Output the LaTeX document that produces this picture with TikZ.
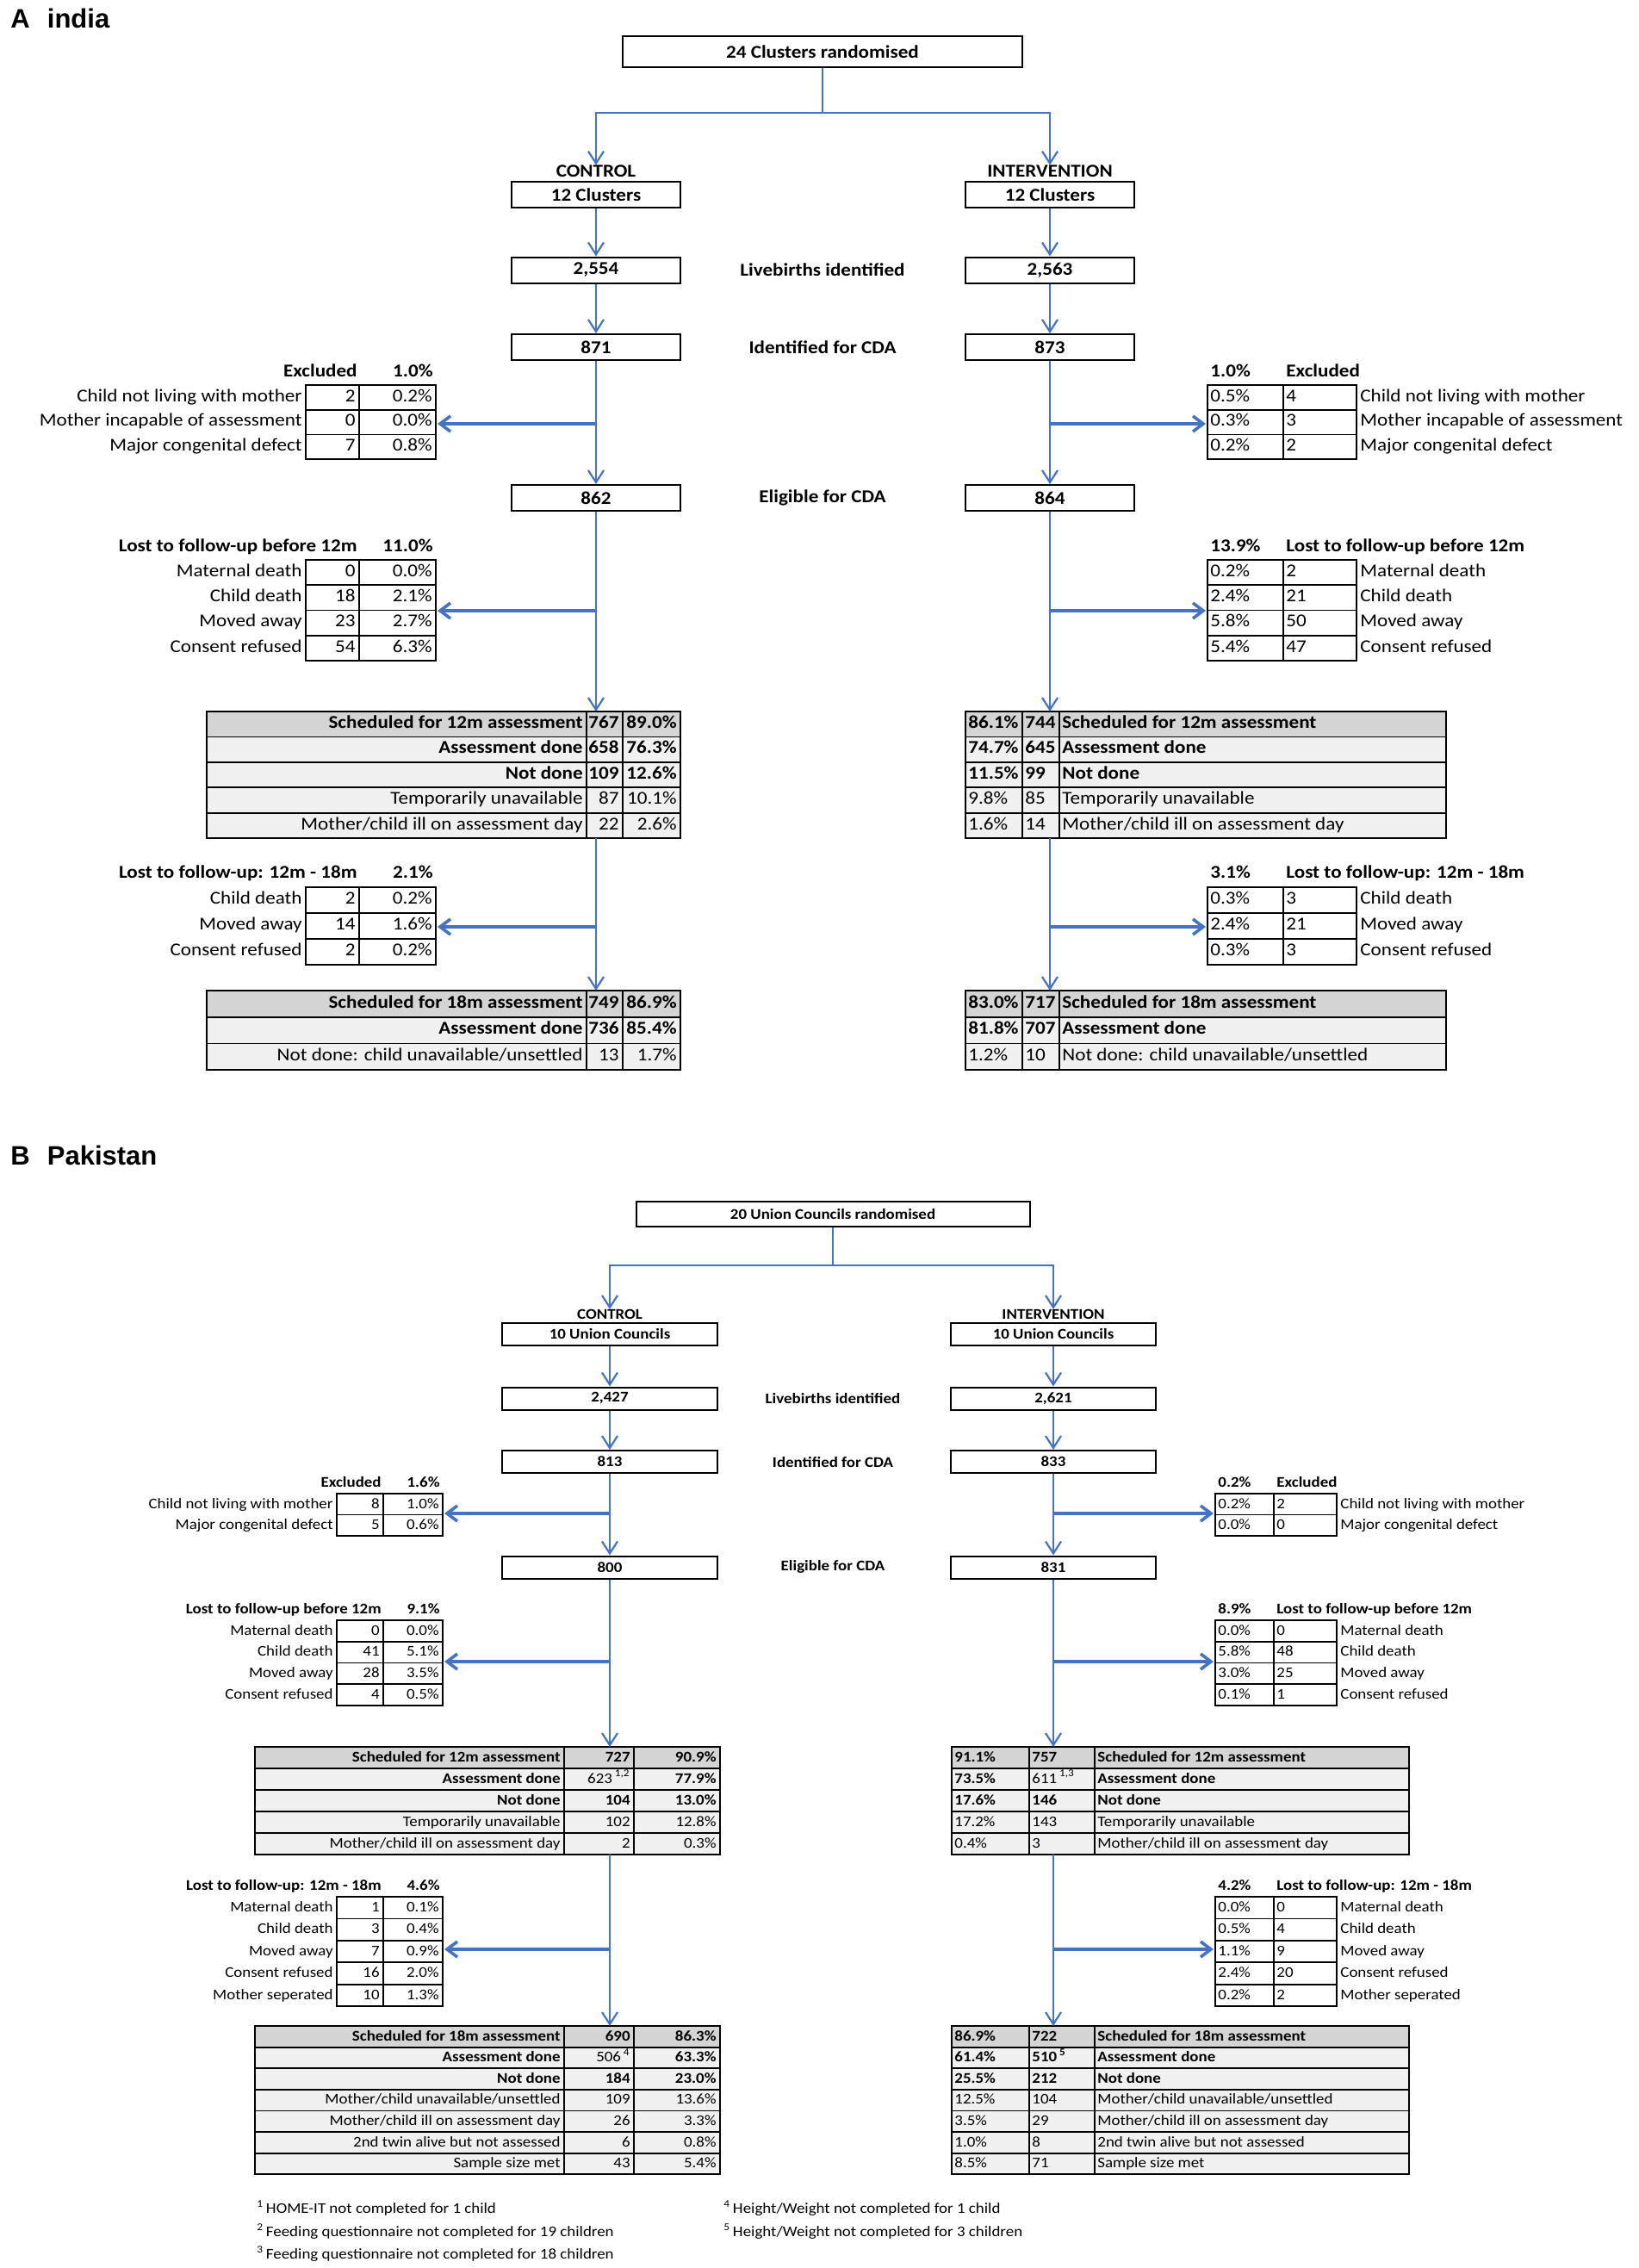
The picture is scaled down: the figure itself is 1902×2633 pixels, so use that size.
\documentclass[tikz,border=0pt]{standalone}
\usepackage{fontspec}
\setmainfont{Carlito}[FakeStretch=1.1]
\newfontfamily\headfont{Liberation Sans}
\usepackage{tikz}
\usetikzlibrary{arrows.meta}

\definecolor{flowblue}{RGB}{68,114,196}
\colorlet{hdrgray}{black!17}
\colorlet{rowgray}{black!6}
\newcommand\tabsize{\normalsize}

\tikzset{
  flow/.style={draw=flowblue, line width=1.1pt, -{Straight Barb[length=7pt,width=9pt]}},
  flowline/.style={draw=flowblue, line width=1.1pt},
  side/.style={draw=flowblue, line width=1.8pt, -{Straight Barb[length=6pt,width=9pt]}},
  tabline/.style={draw=black, line width=0.9pt},
  bx/.style={draw, line width=1pt, inner sep=0pt, font=\tabsize\bfseries},
  txt/.style={inner sep=0pt, font=\tabsize},
  btxt/.style={inner sep=0pt, font=\tabsize\bfseries},
  head/.style={inner sep=0pt, font=\headfont\bfseries\fontsize{15.5}{18}\selectfont},
}

% big tables: #1 name, #2 top, #3 row height, #4 rows label/count/pct/weight/fill
\newcommand\bigtabL[4]{%
  \foreach \lab/\num/\pct/\wt/\bg [count=\i] in {#4}{
    \pgfmathsetmacro\yt{#2+(\i-1)*#3}
    \pgfmathsetmacro\ym{\yt+#3/2}
    \filldraw[tabline, fill=\bg] (\xa,\yt) rectangle (\xd,\yt+#3);
    \draw[tabline] (\xb,\yt) -- (\xb,\yt+#3) (\xc,\yt) -- (\xc,\yt+#3);
    \node[txt, anchor=mid east] (#1l\i) at (\xb-4,\ym) {\wt\lab};
    \node[txt, anchor=mid east] (#1n\i) at (\xc-4,\ym) {\wt\num};
    \node[txt, anchor=mid east] (#1p\i) at (\xd-4,\ym) {\wt\pct};
  }}
\newcommand\bigtabR[4]{%
  \foreach \lab/\num/\pct/\wt/\bg [count=\i] in {#4}{
    \pgfmathsetmacro\yt{#2+(\i-1)*#3}
    \pgfmathsetmacro\ym{\yt+#3/2}
    \filldraw[tabline, fill=\bg] (\xa,\yt) rectangle (\xd,\yt+#3);
    \draw[tabline] (\xb,\yt) -- (\xb,\yt+#3) (\xc,\yt) -- (\xc,\yt+#3);
    \node[txt, anchor=mid west] (#1p\i) at (\xa+3,\ym) {\wt\pct};
    \node[txt, anchor=mid west] (#1n\i) at (\xb+3,\ym) {\wt\num};
    \node[txt, anchor=mid west] (#1l\i) at (\xc+3,\ym) {\wt\lab};
  }}
% side tables: #1 name, #2 top, #3 row height, #4 heading, #5 total, #6 rows label/count/pct
\newcommand\sidetabL[6]{%
  \node[btxt, anchor=mid east] (#1h) at (\xb-2,#2-#3/2) {#4};
  \node[btxt, anchor=mid east] (#1t) at (\xc-3,#2-#3/2) {#5};
  \foreach \lab/\num/\pct [count=\i] in {#6}{
    \pgfmathsetmacro\yt{#2+(\i-1)*#3}
    \pgfmathsetmacro\ym{\yt+#3/2}
    \draw[tabline] (\xa,\yt) rectangle (\xc,\yt+#3) (\xb,\yt) -- (\xb,\yt+#3);
    \node[txt, anchor=mid east] (#1l\i) at (\xa-4,\ym) {\lab};
    \node[txt, anchor=mid east] (#1n\i) at (\xb-4,\ym) {\num};
    \node[txt, anchor=mid east] (#1p\i) at (\xc-4,\ym) {\pct};
  }}
\newcommand\sidetabR[6]{%
  \node[btxt, anchor=mid west] (#1t) at (\xa+3,#2-#3/2) {#5};
  \node[btxt, anchor=mid west] (#1h) at (\xb+3,#2-#3/2) {#4};
  \foreach \lab/\num/\pct [count=\i] in {#6}{
    \pgfmathsetmacro\yt{#2+(\i-1)*#3}
    \pgfmathsetmacro\ym{\yt+#3/2}
    \draw[tabline] (\xa,\yt) rectangle (\xc,\yt+#3) (\xb,\yt) -- (\xb,\yt+#3);
    \node[txt, anchor=mid west] (#1p\i) at (\xa+3,\ym) {\pct};
    \node[txt, anchor=mid west] (#1n\i) at (\xb+3,\ym) {\num};
    \node[txt, anchor=mid west] (#1l\i) at (\xc+4,\ym) {\lab};
  }}

\begin{document}
\begin{tikzpicture}[x=0.5pt, y=-0.5pt]
\useasboundingbox (0,0) rectangle (1902,2633);

%% A india
\begin{scope}[Abox/.style={bx, minimum width=98pt, minimum height=15pt}]
\renewcommand\tabsize{\fontsize{10.5}{12.6}\selectfont}
\node[head, anchor=base west] (Ahead) at (12,33) {A\hspace{0.65em}india};

\node[bx, minimum width=232pt, minimum height=18pt] (Aran) at (955,60) {24 Clusters randomised};
\coordinate (Asplit) at (955,131);
\node[btxt] (Actl) at (692,199) {CONTROL};
\node[btxt] (Aint) at (1219,199) {INTERVENTION};
\draw[flowline] (Aran) -- (Asplit);
\draw[flow] (Asplit) -| (Actl);
\draw[flow] (Asplit) -| (Aint);

\node[Abox] (Ac1) at (692,226) {12 Clusters};
\node[Abox] (Ac2) at (692,313.5) {2,554};
\node[Abox] (Ac3) at (692,403) {871};
\node[Abox] (Ac4) at (692,578) {862};
\node[Abox] (Ai1) at (1219,226) {12 Clusters};
\node[Abox] (Ai2) at (1219,313.5) {2,563};
\node[Abox] (Ai3) at (1219,403) {873};
\node[Abox] (Ai4) at (1219,578) {864};
\node[btxt] (Alive) at (955,313.5) {Livebirths identified};
\node[btxt] (Aidf) at (955,403) {Identified for CDA};
\node[btxt] (Aelig) at (955,578) {Eligible for CDA};

% control side
\def\xa{355}\def\xb{417}\def\xc{506}
\sidetabL{AcX}{447}{28.7}{Excluded}{1.0\%}{
  {Child not living with mother}/2/0.2\%,
  {Mother incapable of assessment}/0/0.0\%,
  {Major congenital defect}/7/0.8\%}
\sidetabL{AcL}{650}{29.25}{Lost to follow-up before 12m}{11.0\%}{
  {Maternal death}/0/0.0\%, {Child death}/18/2.1\%,
  {Moved away}/23/2.7\%, {Consent refused}/54/6.3\%}
\sidetabL{AcM}{1030}{30}{Lost to follow-up: 12m - 18m}{2.1\%}{
  {Child death}/2/0.2\%, {Moved away}/14/1.6\%, {Consent refused}/2/0.2\%}
\def\xa{240}\def\xb{681}\def\xc{723}\def\xd{790}
\bigtabL{Ac12}{826}{29.4}{
  {Scheduled for 12m assessment}/767/89.0\%/\bfseries/hdrgray,
  {Assessment done}/658/76.3\%/\bfseries/rowgray,
  {Not done}/109/12.6\%/\bfseries/rowgray,
  {Temporarily unavailable}/87/10.1\%/\mdseries/rowgray,
  {Mother/child ill on assessment day}/22/2.6\%/\mdseries/rowgray}
\bigtabL{Ac18}{1150}{30.7}{
  {Scheduled for 18m assessment}/749/86.9\%/\bfseries/hdrgray,
  {Assessment done}/736/85.4\%/\bfseries/rowgray,
  {Not done: child unavailable/unsettled}/13/1.7\%/\mdseries/rowgray}

% intervention side
\def\xa{1402}\def\xb{1490}\def\xc{1575}
\sidetabR{AiX}{447}{28.7}{Excluded}{1.0\%}{
  {Child not living with mother}/4/0.5\%,
  {Mother incapable of assessment}/3/0.3\%,
  {Major congenital defect}/2/0.2\%}
\sidetabR{AiL}{650}{29.25}{Lost to follow-up before 12m}{13.9\%}{
  {Maternal death}/2/0.2\%, {Child death}/21/2.4\%,
  {Moved away}/50/5.8\%, {Consent refused}/47/5.4\%}
\sidetabR{AiM}{1030}{30}{Lost to follow-up: 12m - 18m}{3.1\%}{
  {Child death}/3/0.3\%, {Moved away}/21/2.4\%, {Consent refused}/3/0.3\%}
\def\xa{1121}\def\xb{1187}\def\xc{1230}\def\xd{1679}
\bigtabR{Ai12}{826}{29.4}{
  {Scheduled for 12m assessment}/744/86.1\%/\bfseries/hdrgray,
  {Assessment done}/645/74.7\%/\bfseries/rowgray,
  {Not done}/99/11.5\%/\bfseries/rowgray,
  {Temporarily unavailable}/85/9.8\%/\mdseries/rowgray,
  {Mother/child ill on assessment day}/14/1.6\%/\mdseries/rowgray}
\bigtabR{Ai18}{1150}{30.7}{
  {Scheduled for 18m assessment}/717/83.0\%/\bfseries/hdrgray,
  {Assessment done}/707/81.8\%/\bfseries/rowgray,
  {Not done: child unavailable/unsettled}/10/1.2\%/\mdseries/rowgray}

\coordinate (Ac12top) at (692,826);
\coordinate (Ac12bot) at (692,973);
\coordinate (Ac18top) at (692,1150);
\coordinate (Ai12top) at (1219,826);
\coordinate (Ai12bot) at (1219,973);
\coordinate (Ai18top) at (1219,1150);
\draw[flow] (Ac1) -- (Ac2);
\draw[flow] (Ac2) -- (Ac3);
\draw[flow] (Ac3) -- (Ac4);
\draw[flow] (Ac4) -- (Ac12top);
\draw[flow] (Ac12bot) -- (Ac18top);
\draw[flow] (Ai1) -- (Ai2);
\draw[flow] (Ai2) -- (Ai3);
\draw[flow] (Ai3) -- (Ai4);
\draw[flow] (Ai4) -- (Ai12top);
\draw[flow] (Ai12bot) -- (Ai18top);

\coordinate (AcXs) at (692,492);   \coordinate (AcXe) at (508,492);
\coordinate (AcLs) at (692,709);   \coordinate (AcLe) at (508,709);
\coordinate (AcMs) at (692,1076);  \coordinate (AcMe) at (508,1076);
\coordinate (AiXs) at (1219,492);  \coordinate (AiXe) at (1400,492);
\coordinate (AiLs) at (1219,709);  \coordinate (AiLe) at (1400,709);
\coordinate (AiMs) at (1219,1076); \coordinate (AiMe) at (1400,1076);
\foreach \s in {AcX,AcL,AcM,AiX,AiL,AiM}
  \draw[side] (\s s) -- (\s e);
\end{scope}

%% B Pakistan
\begin{scope}[Bcbox/.style={bx, minimum width=125pt, minimum height=13pt},
              Bibox/.style={bx, minimum width=119pt, minimum height=13pt}]
\renewcommand\tabsize{\fontsize{8.6}{10.3}\selectfont}
\node[head, anchor=base west] (Bhead) at (12,1352) {B\hspace{0.65em}Pakistan};

\node[bx, minimum width=228.5pt, minimum height=14.5pt] (Bran) at (967,1409.5) {20 Union Councils randomised};
\coordinate (Bsplit) at (967,1469);
\node[btxt] (Bctl) at (708,1526) {CONTROL};
\node[btxt] (Bint) at (1223,1526) {INTERVENTION};
\draw[flowline] (Bran) -- (Bsplit);
\draw[flow] (Bsplit) -| (Bctl);
\draw[flow] (Bsplit) -| (Bint);

\node[Bcbox] (Bc1) at (708,1549) {10 Union Councils};
\node[Bcbox] (Bc2) at (708,1623.5) {2,427};
\node[Bcbox] (Bc3) at (708,1697) {813};
\node[Bcbox] (Bc4) at (708,1819.5) {800};
\node[Bibox] (Bi1) at (1223,1549) {10 Union Councils};
\node[Bibox] (Bi2) at (1223,1623.5) {2,621};
\node[Bibox] (Bi3) at (1223,1697) {833};
\node[Bibox] (Bi4) at (1223,1819.5) {831};
\node[btxt] (Blive) at (967,1623) {Livebirths identified};
\node[btxt] (Bidf) at (967,1697) {Identified for CDA};
\node[btxt] (Belig) at (967,1819) {Eligible for CDA};

% control side
\def\xa{391}\def\xb{445}\def\xc{514}
\sidetabL{BcX}{1734}{24.5}{Excluded}{1.6\%}{
  {Child not living with mother}/8/1.0\%, {Major congenital defect}/5/0.6\%}
\sidetabL{BcL}{1881}{24.75}{Lost to follow-up before 12m}{9.1\%}{
  {Maternal death}/0/0.0\%, {Child death}/41/5.1\%,
  {Moved away}/28/3.5\%, {Consent refused}/4/0.5\%}
\sidetabL{BcM}{2202}{25.4}{Lost to follow-up: 12m - 18m}{4.6\%}{
  {Maternal death}/1/0.1\%, {Child death}/3/0.4\%, {Moved away}/7/0.9\%,
  {Consent refused}/16/2.0\%, {Mother seperated}/10/1.3\%}
\def\xa{296}\def\xb{655}\def\xc{736}\def\xd{836}
\bigtabL{Bc12}{2028}{25}{
  {Scheduled for 12m assessment}/727/90.9\%/\bfseries/hdrgray,
  {Assessment done}/{\mdseries 623\,\textsuperscript{1,2}}/77.9\%/\bfseries/rowgray,
  {Not done}/104/13.0\%/\bfseries/rowgray,
  {Temporarily unavailable}/102/12.8\%/\mdseries/rowgray,
  {Mother/child ill on assessment day}/2/0.3\%/\mdseries/rowgray}
\bigtabL{Bc18}{2352}{24.6}{
  {Scheduled for 18m assessment}/690/86.3\%/\bfseries/hdrgray,
  {Assessment done}/{\mdseries 506\,\textsuperscript{4}}/63.3\%/\bfseries/rowgray,
  {Not done}/184/23.0\%/\bfseries/rowgray,
  {Mother/child unavailable/unsettled}/109/13.6\%/\mdseries/rowgray,
  {Mother/child ill on assessment day}/26/3.3\%/\mdseries/rowgray,
  {2nd twin alive but not assessed}/6/0.8\%/\mdseries/rowgray,
  {Sample size met}/43/5.4\%/\mdseries/rowgray}

% intervention side
\def\xa{1411}\def\xb{1479}\def\xc{1552}
\sidetabR{BiX}{1734}{24.5}{Excluded}{0.2\%}{
  {Child not living with mother}/2/0.2\%, {Major congenital defect}/0/0.0\%}
\sidetabR{BiL}{1881}{24.75}{Lost to follow-up before 12m}{8.9\%}{
  {Maternal death}/0/0.0\%, {Child death}/48/5.8\%,
  {Moved away}/25/3.0\%, {Consent refused}/1/0.1\%}
\sidetabR{BiM}{2202}{25.4}{Lost to follow-up: 12m - 18m}{4.2\%}{
  {Maternal death}/0/0.0\%, {Child death}/4/0.5\%, {Moved away}/9/1.1\%,
  {Consent refused}/20/2.4\%, {Mother seperated}/2/0.2\%}
\def\xa{1105}\def\xb{1195}\def\xc{1271}\def\xd{1636}
\bigtabR{Bi12}{2028}{25}{
  {Scheduled for 12m assessment}/757/91.1\%/\bfseries/hdrgray,
  {Assessment done}/{\mdseries 611\,\textsuperscript{1,3}}/73.5\%/\bfseries/rowgray,
  {Not done}/146/17.6\%/\bfseries/rowgray,
  {Temporarily unavailable}/143/17.2\%/\mdseries/rowgray,
  {Mother/child ill on assessment day}/3/0.4\%/\mdseries/rowgray}
\bigtabR{Bi18}{2352}{24.6}{
  {Scheduled for 18m assessment}/722/86.9\%/\bfseries/hdrgray,
  {Assessment done}/{510\,\textsuperscript{5}}/61.4\%/\bfseries/rowgray,
  {Not done}/212/25.5\%/\bfseries/rowgray,
  {Mother/child unavailable/unsettled}/104/12.5\%/\mdseries/rowgray,
  {Mother/child ill on assessment day}/29/3.5\%/\mdseries/rowgray,
  {2nd twin alive but not assessed}/8/1.0\%/\mdseries/rowgray,
  {Sample size met}/71/8.5\%/\mdseries/rowgray}

\coordinate (Bc12top) at (708,2028);
\coordinate (Bc12bot) at (708,2153);
\coordinate (Bc18top) at (708,2352);
\coordinate (Bi12top) at (1223,2028);
\coordinate (Bi12bot) at (1223,2153);
\coordinate (Bi18top) at (1223,2352);
\draw[flow] (Bc1) -- (Bc2);
\draw[flow] (Bc2) -- (Bc3);
\draw[flow] (Bc3) -- (Bc4);
\draw[flow] (Bc4) -- (Bc12top);
\draw[flow] (Bc12bot) -- (Bc18top);
\draw[flow] (Bi1) -- (Bi2);
\draw[flow] (Bi2) -- (Bi3);
\draw[flow] (Bi3) -- (Bi4);
\draw[flow] (Bi4) -- (Bi12top);
\draw[flow] (Bi12bot) -- (Bi18top);

\coordinate (BcXs) at (708,1757);  \coordinate (BcXe) at (516,1757);
\coordinate (BcLs) at (708,1929);  \coordinate (BcLe) at (516,1929);
\coordinate (BcMs) at (708,2263);  \coordinate (BcMe) at (516,2263);
\coordinate (BiXs) at (1223,1757); \coordinate (BiXe) at (1409,1757);
\coordinate (BiLs) at (1223,1929); \coordinate (BiLe) at (1409,1929);
\coordinate (BiMs) at (1223,2263); \coordinate (BiMe) at (1409,2263);
\foreach \s in {BcX,BcL,BcM,BiX,BiL,BiM}
  \draw[side] (\s s) -- (\s e);

% footnotes
\node[txt, anchor=mid west] (Bfn1) at (298,2565) {\textsuperscript{1}\,HOME-IT not completed for 1 child};
\node[txt, anchor=mid west] (Bfn2) at (298,2592) {\textsuperscript{2}\,Feeding questionnaire not completed for 19 children};
\node[txt, anchor=mid west] (Bfn3) at (298,2618) {\textsuperscript{3}\,Feeding questionnaire not completed for 18 children};
\node[txt, anchor=mid west] (Bfn4) at (840,2565) {\textsuperscript{4}\,Height/Weight not completed for 1 child};
\node[txt, anchor=mid west] (Bfn5) at (840,2592) {\textsuperscript{5}\,Height/Weight not completed for 3 children};
\end{scope}
\end{tikzpicture}
\end{document}
